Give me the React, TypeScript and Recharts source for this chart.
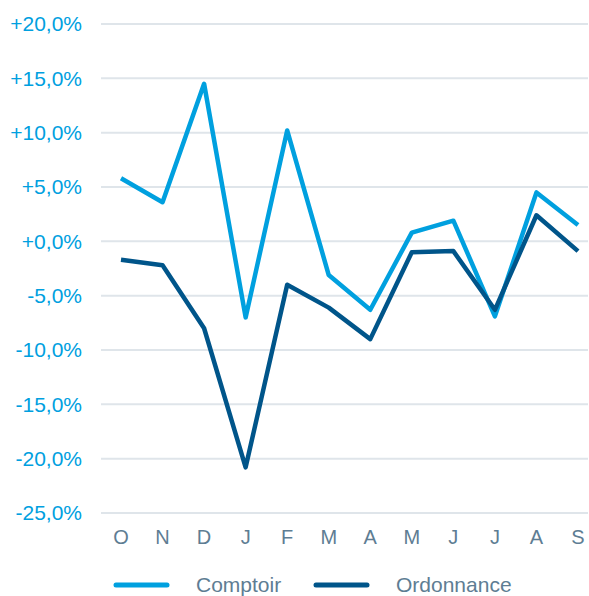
import { LineChart, Line, XAxis, YAxis, CartesianGrid, Legend } from 'recharts';

const months = ['O', 'N', 'D', 'J', 'F', 'M', 'A', 'M', 'J', 'J', 'A', 'S'];
const comptoir = [5.8, 3.6, 14.5, -7.0, 10.2, -3.1, -6.3, 0.8, 1.9, -6.9, 4.5, 1.5];
const ordonnance = [-1.7, -2.2, -8.0, -20.8, -4.0, -6.1, -9.0, -1.0, -0.9, -6.3, 2.4, -0.9];
const yTicks = [-25, -20, -15, -10, -5, 0, 5, 10, 15, 20];

const data = months.map((m, i) => ({ m, comptoir: comptoir[i], ordonnance: ordonnance[i] }));

const LIGHT = '#00a0df';
const DARK = '#00558a';
const GREY = '#5e7d93';
const FONT = 'Liberation Sans, Arial, sans-serif';

const fmt = (v: number) => (v >= 0 ? '+' : '') + v.toFixed(1).replace('.', ',') + '%';

function MyLegend() {
  const items = [
    { name: 'Comptoir', color: LIGHT },
    { name: 'Ordonnance', color: DARK },
  ];
  return (
    <div style={{ display: 'flex', paddingLeft: 113, paddingTop: 10, fontFamily: FONT }}>
      {items.map((it) => (
        <div key={it.name} style={{ display: 'flex', alignItems: 'center', width: 200 }}>
          <svg width={60} height={10}>
            <line x1={3} y1={5} x2={54} y2={5} stroke={it.color} strokeWidth={5} strokeLinecap="round" />
          </svg>
          <span style={{ marginLeft: 23, fontSize: 21, color: GREY }}>{it.name}</span>
        </div>
      ))}
    </div>
  );
}

export default function App() {
  return (
    <div style={{ position: 'absolute', left: 0, top: 0, background: '#fff' }}>
      <LineChart width={589} height={596} data={data} margin={{ top: 24, right: 1, bottom: 0, left: 0 }}>
        <CartesianGrid vertical={false} stroke="#dfe5ea" strokeWidth={2} />
        <XAxis
          dataKey="m"
          axisLine={false}
          tickLine={false}
          tickSize={0}
          tickMargin={17}
          height={50}
          padding={{ left: 20, right: 10 }}
          tick={{ fill: GREY, fontSize: 20, fontFamily: FONT }}
          interval={0}
        />
        <YAxis
          domain={[-25, 20]}
          ticks={yTicks}
          tickFormatter={fmt}
          axisLine={false}
          tickLine={false}
          tickSize={0}
          tickMargin={19}
          width={101}
          interval={0}
          tick={{ fill: LIGHT, fontSize: 21, fontFamily: FONT }}
        />
        <Legend verticalAlign="bottom" height={33} content={<MyLegend />} />
        <Line dataKey="comptoir" stroke={LIGHT} strokeWidth={4.5} dot={false} isAnimationActive={false} strokeLinejoin="round" />
        <Line dataKey="ordonnance" stroke={DARK} strokeWidth={4.5} dot={false} isAnimationActive={false} strokeLinejoin="round" />
      </LineChart>
    </div>
  );
}
